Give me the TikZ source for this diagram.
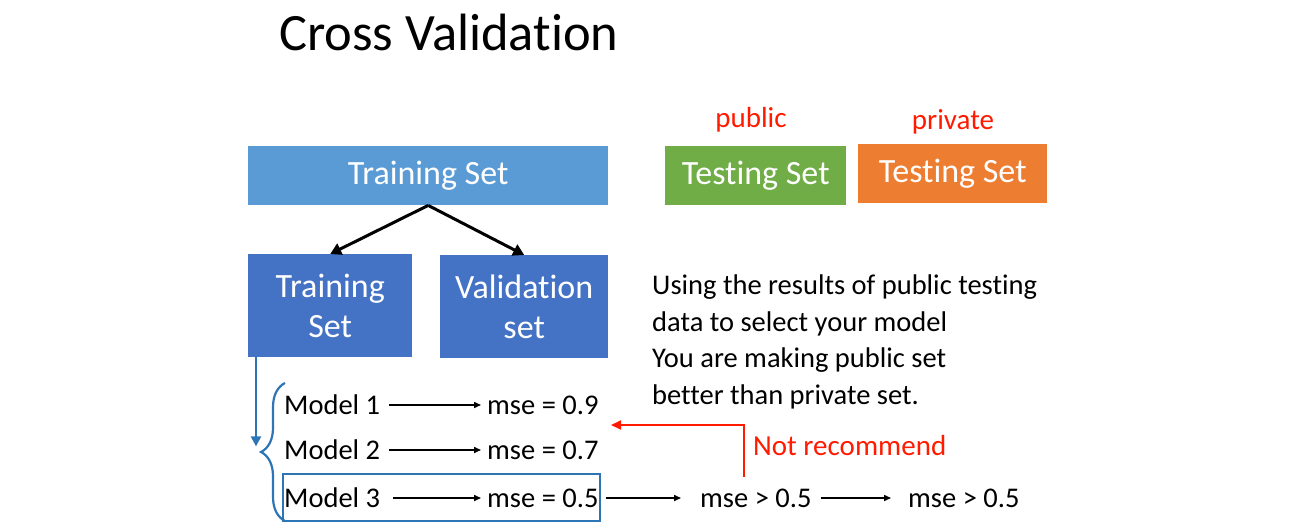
\documentclass[tikz,border=0pt]{standalone}
\usepackage{fontspec}
\setmainfont{Carlito}[Ligatures=NoCommon]
\usepackage{tikz}
\usetikzlibrary{arrows.meta, positioning, decorations.pathreplacing}
\definecolor{setlight}{HTML}{5B9BD5}
\definecolor{setdark}{HTML}{4472C4}
\definecolor{setgreen}{HTML}{70AD47}
\definecolor{setorange}{HTML}{ED7D31}
\definecolor{markblue}{HTML}{2E75B6}
\definecolor{warnred}{HTML}{FF1A00}
\tikzset{
  setbox/.style={fill=setdark, text=white, anchor=north west, align=center, inner sep=0pt,
    font=\fontsize{34}{40}\selectfont},
  plain/.style={anchor=west, inner sep=3pt, font=\fontsize{28.5}{33}\selectfont},
  redlabel/.style={text=warnred, font=\fontsize{29}{33}\selectfont},
  split/.style={-{Triangle[length=11pt, width=12pt]}, line width=3pt},
  flow/.style={-{Triangle[length=7pt, width=6pt]}, line width=1.5pt, shorten <=6pt, shorten >=3pt},
  pickline/.style={draw=markblue, line width=2.2pt}
}
\begin{document}
\begin{tikzpicture}[x=1pt, y=-1pt]
\useasboundingbox (0,0) rectangle (1290,532);
\node[anchor=west, inner sep=0pt, font=\fontsize{52.5}{56}\selectfont] (title) at (279,32) {Cross Validation};

% data split
\node[setbox, fill=setlight, minimum width=360pt, minimum height=59pt] (trainall) at (248,146) {\raisebox{-3pt}{Training Set}};
\node[setbox, minimum width=164pt, minimum height=103pt] (trainsub) at (248,254) {Training\\Set};
\node[setbox, minimum width=168pt, minimum height=103pt] (valid) at (440,255) {Validation\\set};
\node[setbox, fill=setgreen, minimum width=181pt, minimum height=59pt] (pubtest) at (665,146) {\raisebox{-3pt}{Testing Set}};
\node[setbox, fill=setorange, minimum width=189pt, minimum height=59pt] (privtest) at (858,144) {\raisebox{-3pt}{Testing Set}};
\node[redlabel] (publab) at (751,120) {public};
\node[redlabel] (privlab) at (953,122) {private};
\draw[split] (trainall.south) -- (trainsub.north);
\draw[split] (trainall.south) -- (valid.north);

% note
\node[plain, anchor=north west, inner sep=0pt, align=left, font=\fontsize{28.5}{36.5}\selectfont] (note) at (652,275)
  {Using the results of public testing\\data to select your model\\You are making public set\\better than private set.};

% models
\node[plain] (m1) at (281,405) {Model 1};
\node[plain] (m2) at (281,450) {Model 2};
\node[plain] (m3) at (281,498) {Model 3};
\node[plain] (e1) at (484,405) {mse = 0.9};
\node[plain] (e2) at (484,450) {mse = 0.7};
\node[plain] (e3) at (484,498) {mse = 0.5};
\node[plain] (g1) at (697,498) {mse > 0.5};
\node[plain] (g2) at (905,498) {mse > 0.5};
\draw[flow] (m1) -- (e1);
\draw[flow] (m2) -- (e2);
\draw[flow, shorten <=10pt] (m3) -- (e3);
\draw[flow, shorten <=4pt, shorten >=16pt] (e3) -- (g1);
\draw[flow, shorten >=14pt] (g1) -- (g2);

% selection
\draw[pickline, -{Triangle[length=10pt, width=10pt]}] ([xshift=8pt]trainsub.south west) -- ++(0,89);
\draw[pickline, decorate, decoration={brace, amplitude=24pt, aspect=0.5}] (285,521) -- (285,383);
\draw[pickline] (283,474) rectangle (600,521);

% feedback
\coordinate (back0) at (744,477);
\coordinate (back1) at (611,425);
\draw[warnred, line width=2.2pt, -{Triangle[length=10pt, width=9pt]}] (back0) |- (back1);
\node[redlabel, anchor=west, inner sep=0pt] (notrec) at (753,446) {Not recommend};
\end{tikzpicture}
\end{document}
